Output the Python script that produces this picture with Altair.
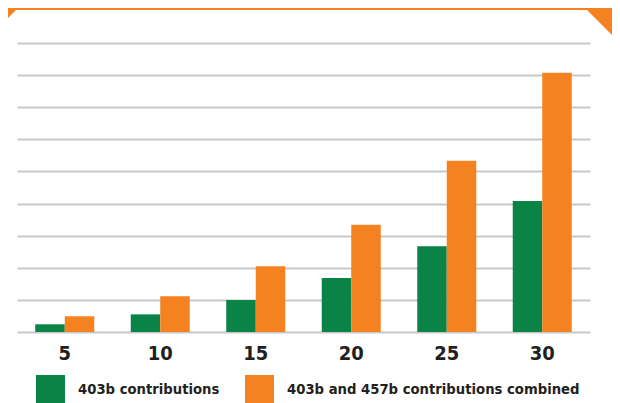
import altair as alt
import pandas as pd

years = ["5", "10", "15", "20", "25", "30"]
series_names = ["403b contributions", "403b and 457b contributions combined"]
green_values = [0.24, 0.55, 1.0, 1.68, 2.67, 4.08]
orange_values = [0.49, 1.11, 2.05, 3.34, 5.33, 8.07]
grid_values = [0, 1, 2, 3, 4, 5, 6, 7, 8, 9]
colors = ["#0a8446", "#f58220"]
frame_color = "#f58220"

rows = []
for i, y in enumerate(years):
    rows.append({"year": y, "series": series_names[0], "value": green_values[i], "order": 0})
    rows.append({"year": y, "series": series_names[1], "value": orange_values[i], "order": 1})
df = pd.DataFrame(rows)

W, H = 577, 289
FONT = "DejaVu Sans Condensed"

bars = alt.Chart(df).mark_bar().encode(
    x=alt.X("year:N", sort=years,
            scale=alt.Scale(range=[2, 575], paddingInner=0.382, paddingOuter=0.191),
            axis=alt.Axis(title=None, labelAngle=0, ticks=False, tickSize=0, domain=False,
                          labelFont=FONT, labelFontWeight="bold", labelFontSize=20,
                          labelColor="#231f20", labelBaseline="top", labelPadding=11,
                          grid=False)),
    xOffset=alt.XOffset("series:N", sort=series_names),
    y=alt.Y("value:Q", scale=alt.Scale(domain=[0, 9], nice=False),
            axis=alt.Axis(title=None, values=grid_values, labels=False, ticks=False,
                          domain=False, grid=True, gridColor="#c8c8c8", gridWidth=2)),
    color=alt.Color("series:N", sort=series_names,
                    scale=alt.Scale(domain=series_names, range=colors),
                    legend=alt.Legend(title=None, orient="none", direction="horizontal",
                                      legendX=21, legendY=332, symbolType="square",
                                      symbolSize=841, symbolStrokeWidth=0, symbolOpacity=1,
                                      labelFont=FONT, labelFontWeight="bold", labelFontSize=14.7,
                                      labelColor="#231f20", labelOffset=13, columnPadding=25,
                                      labelLimit=400, padding=0)),
)

one = alt.Data(values=[{"k": 1}])

top_band = alt.Chart(one).mark_rect(color=frame_color).encode(
    x=alt.value(-7), x2=alt.value(600), y=alt.value(-36), y2=alt.value(-33)
)
left_tri = alt.Chart(one).mark_point(
    shape="M-1,-1L1,-1L-1,1Z", filled=True, opacity=1, color=frame_color, strokeWidth=0
).encode(x=alt.value(-2), y=alt.value(-30), size=alt.value(100))
right_tri = alt.Chart(one).mark_point(
    shape="M-1,-1L1,-1L1,1Z", filled=True, opacity=1, color=frame_color, strokeWidth=0
).encode(x=alt.value(587.35), y=alt.value(-17.65), size=alt.value(1246))

chart = alt.layer(bars, top_band, left_tri, right_tri).properties(
    width=W, height=H,
    autosize=alt.AutoSizeParams(type="none"),
    padding={"left": 7, "top": 35, "right": 20, "bottom": 71},
    background="white",
).configure_view(strokeWidth=0)

chart.save("out.html", embed_options={"renderer": "svg", "actions": False})
